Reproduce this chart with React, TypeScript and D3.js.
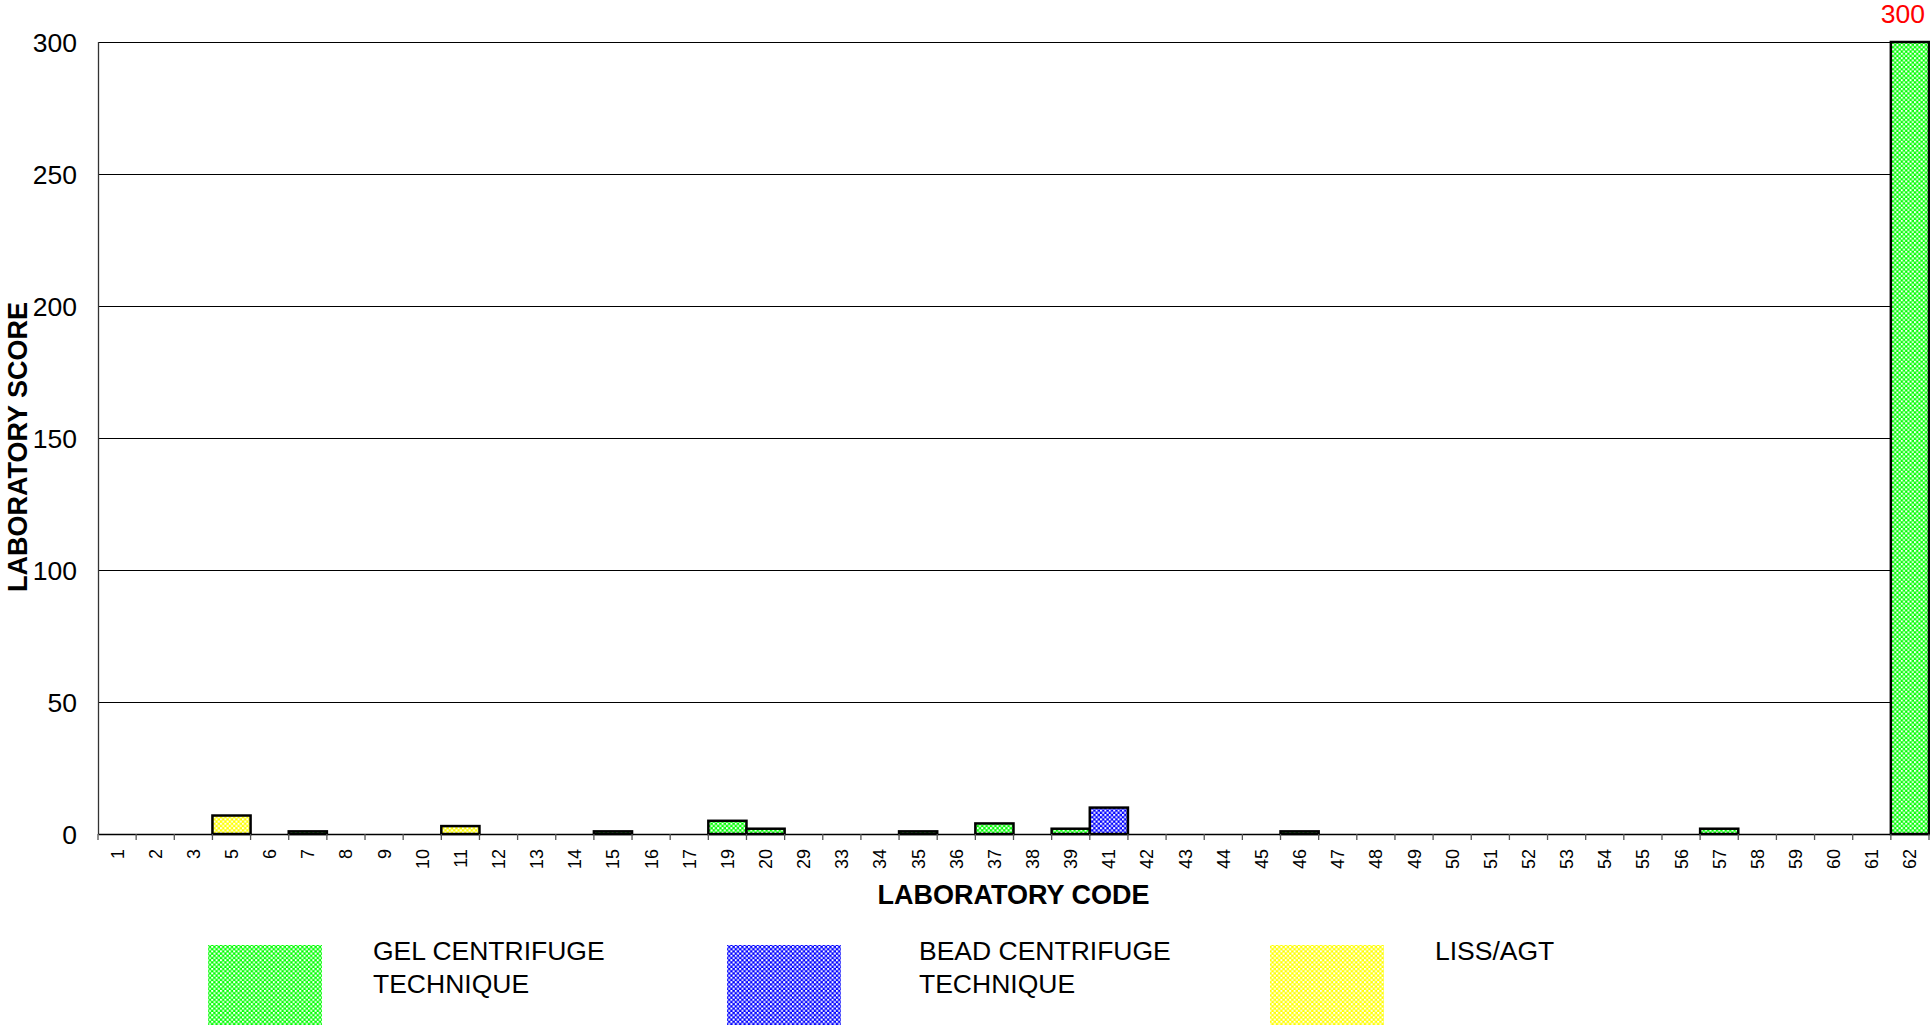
import { useEffect, useRef } from 'react';
import * as d3 from 'd3';

// laboratory codes on the x axis
const labCodes = [
  '1', '2', '3', '5', '6', '7', '8', '9', '10', '11', '12', '13', '14', '15', '16', '17',
  '19', '20', '29', '33', '34', '35', '36', '37', '38', '39', '41', '42', '43', '44', '45', '46',
  '47', '48', '49', '50', '51', '52', '53', '54', '55', '56', '57', '58', '59', '60', '61', '62',
];

// score for each laboratory (same order as labCodes)
const labScores = [
  0, 0, 0, 7, 0, 1, 0, 0, 0, 3, 0, 0, 0, 1, 0, 0,
  5, 2, 0, 0, 0, 1, 0, 4, 0, 2, 10, 0, 0, 0, 0, 1,
  0, 0, 0, 0, 0, 0, 0, 0, 0, 0, 2, 0, 0, 0, 0, 300,
];

// technique used by each laboratory (same order as labCodes)
const labMethods = [
  'gel', 'gel', 'gel', 'liss', 'gel', 'gel', 'gel', 'gel', 'gel', 'liss', 'gel', 'gel', 'gel', 'gel', 'gel', 'gel',
  'gel', 'gel', 'gel', 'gel', 'gel', 'gel', 'gel', 'gel', 'gel', 'gel', 'bead', 'gel', 'gel', 'gel', 'gel', 'gel',
  'gel', 'gel', 'gel', 'gel', 'gel', 'gel', 'gel', 'gel', 'gel', 'gel', 'gel', 'gel', 'gel', 'gel', 'gel', 'gel',
];

const yTicks = [0, 50, 100, 150, 200, 250, 300];

const methodKeys = ['gel', 'bead', 'liss'];
const methodColors = ['#00ff00', '#0000ff', '#ffff00'];
const legendLines = [
  ['GEL CENTRIFUGE', 'TECHNIQUE'],
  ['BEAD CENTRIFUGE', 'TECHNIQUE'],
  ['LISS/AGT'],
];
// legend layout: box left and text left
const legendBoxX = [208, 727, 1270];
const legendTextX = [373, 919, 1435];

const W = 1930;
const H = 1028;
const margin = { top: 42, right: 1, bottom: 194, left: 98 };
const FONT = 'Arial, "Liberation Sans", Helvetica, sans-serif';

export default function App() {
  const svgRef = useRef<SVGSVGElement>(null);

  useEffect(() => {
    if (!svgRef.current) return;
    const svg = d3.select(svgRef.current);
    svg.selectAll('*').remove();

    const x = d3.scaleBand<string>()
      .domain(labCodes)
      .range([margin.left, W - margin.right])
      .padding(0);

    const y = d3.scaleLinear()
      .domain([0, 300])
      .range([H - margin.bottom, margin.top]);

    const color = d3.scaleOrdinal<string, string>()
      .domain(methodKeys)
      .range(methodColors);

    // checker patterns
    const defs = svg.append('defs');
    methodKeys.forEach(k => {
      const p = defs.append('pattern')
        .attr('id', `pat-${k}`)
        .attr('patternUnits', 'userSpaceOnUse')
        .attr('width', 4.4)
        .attr('height', 4.4);
      p.append('rect').attr('width', 4.4).attr('height', 4.4).attr('fill', color(k));
      p.append('rect').attr('x', 0).attr('y', 0).attr('width', 2).attr('height', 2).attr('fill', '#fff');
      p.append('rect').attr('x', 2.2).attr('y', 2.2).attr('width', 2).attr('height', 2).attr('fill', '#fff');
    });

    // gridlines
    svg.append('g')
      .selectAll('line')
      .data(yTicks.filter(t => t > 0))
      .join('line')
      .attr('x1', margin.left)
      .attr('x2', W - margin.right)
      .attr('y1', d => Math.round(y(d)) + 0.5)
      .attr('y2', d => Math.round(y(d)) + 0.5)
      .attr('stroke', '#000')
      .attr('stroke-width', 1.2);

    // y tick labels
    svg.append('g')
      .selectAll('text')
      .data(yTicks)
      .join('text')
      .attr('x', margin.left - 21)
      .attr('y', d => y(d))
      .attr('dy', '0.36em')
      .attr('text-anchor', 'end')
      .attr('font-family', FONT)
      .attr('font-size', 26.5)
      .attr('fill', '#000')
      .text(d => d);

    // bars
    const rows = labCodes.map((c, i) => ({ code: c, score: labScores[i], method: labMethods[i] }));
    svg.append('g')
      .selectAll('rect')
      .data(rows.filter(d => d.score > 0))
      .join('rect')
      .attr('x', d => x(d.code)!)
      .attr('y', d => y(d.score))
      .attr('width', x.bandwidth())
      .attr('height', d => y(0) - y(d.score))
      .attr('fill', d => `url(#pat-${d.method})`)
      .attr('stroke', '#000')
      .attr('stroke-width', 2.5);

    // y axis line
    svg.append('line')
      .attr('x1', margin.left + 0.5).attr('x2', margin.left + 0.5)
      .attr('y1', margin.top).attr('y2', y(0))
      .attr('stroke', '#333').attr('stroke-width', 1.3);

    // x axis
    const xAxis = svg.append('g')
      .attr('transform', `translate(0,${y(0)})`)
      .call(d3.axisBottom(x).tickSize(0).tickSizeOuter(0).tickFormat(() => ''));
    xAxis.select('.domain').attr('stroke', '#000').attr('stroke-width', 1.6);
    xAxis.selectAll('.tick').remove();

    // x tick marks on band boundaries
    const bounds = labCodes.map(c => x(c)!).concat([x(labCodes[labCodes.length - 1])! + x.bandwidth()]);
    svg.append('g')
      .selectAll('line')
      .data(bounds)
      .join('line')
      .attr('x1', d => d).attr('x2', d => d)
      .attr('y1', y(0)).attr('y2', y(0) + 6)
      .attr('stroke', '#555').attr('stroke-width', 1.3);

    // x tick labels (rotated)
    svg.append('g')
      .selectAll('text')
      .data(labCodes)
      .join('text')
      .attr('transform', d => `translate(${x(d)! + x.bandwidth() / 2},${y(0) + 15}) rotate(-90)`)
      .attr('text-anchor', 'end')
      .attr('dy', '0.36em')
      .attr('font-family', FONT)
      .attr('font-size', 18)
      .attr('fill', '#000')
      .text(d => d);

    // red value label on the large bar
    const top = rows.reduce((a, b) => (b.score > a.score ? b : a));
    svg.append('text')
      .attr('x', x(top.code)! + x.bandwidth() - 4)
      .attr('y', y(top.score) - 19)
      .attr('text-anchor', 'end')
      .attr('font-family', FONT)
      .attr('font-size', 26.5)
      .attr('fill', '#ff0000')
      .text(top.score);

    // axis titles
    svg.append('text')
      .attr('x', (margin.left + W - margin.right) / 2)
      .attr('y', 904)
      .attr('text-anchor', 'middle')
      .attr('font-family', FONT)
      .attr('font-weight', 'bold')
      .attr('font-size', 27)
      .attr('fill', '#000')
      .text('LABORATORY CODE');

    svg.append('text')
      .attr('transform', `translate(27,${(margin.top + y(0)) / 2 + 9}) rotate(-90)`)
      .attr('text-anchor', 'middle')
      .attr('font-family', FONT)
      .attr('font-weight', 'bold')
      .attr('font-size', 27)
      .attr('fill', '#000')
      .text('LABORATORY SCORE');

    // legend
    const legend = svg.append('g');
    methodKeys.forEach((k, i) => {
      legend.append('rect')
        .attr('x', legendBoxX[i])
        .attr('y', 945)
        .attr('width', 114)
        .attr('height', 80)
        .attr('fill', `url(#pat-${k})`);
      const t = legend.append('text')
        .attr('font-family', FONT)
        .attr('font-size', 26.5)
        .attr('fill', '#000');
      legendLines[i].forEach((line, j) => {
        t.append('tspan')
          .attr('x', legendTextX[i])
          .attr('y', 960 + j * 33)
          .text(line);
      });
    });
  }, []);

  return (
    <div style={{ position: 'absolute', left: 0, top: 0, width: W, height: H, background: '#fff' }}>
      <svg ref={svgRef} width={W} height={H} style={{ display: 'block' }} />
    </div>
  );
}
